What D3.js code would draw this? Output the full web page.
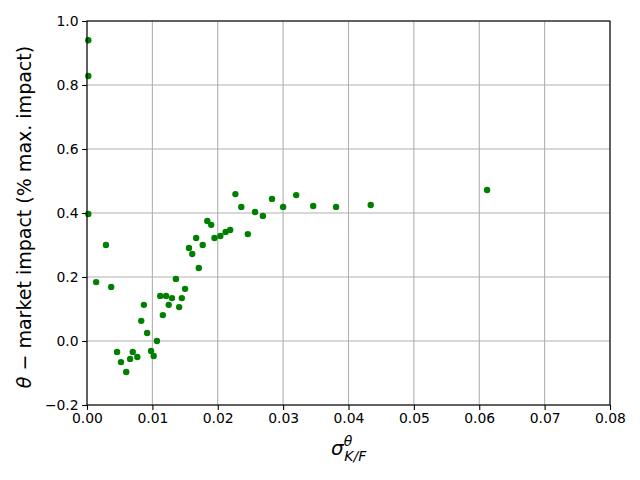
<!DOCTYPE html>
<html><head><meta charset="utf-8">
<script src="https://cdn.jsdelivr.net/npm/d3@7"></script>
<style>body{margin:0;background:#fff}svg{display:block}text{font-family:"DejaVu Sans",sans-serif}</style>
</head><body><svg id="c" width="640" height="480"></svg>
<script>
const sigmaKF = [0.0002,0.0002,0.0002,0.0014,0.0029,0.0037,0.0046,0.0052,0.0060,0.0066,0.0070,0.0077,0.0083,0.0087,0.0092,0.0098,0.0102,0.0107,0.0112,0.0116,0.0121,0.0125,0.0130,0.0136,0.0141,0.0145,0.0150,0.0156,0.0161,0.0167,0.0171,0.0177,0.0184,0.0190,0.0195,0.0204,0.0212,0.0219,0.0227,0.0236,0.0246,0.0257,0.0269,0.0283,0.0300,0.0320,0.0346,0.0381,0.0434,0.0612];
const impact = [0.940,0.828,0.397,0.184,0.300,0.169,-0.034,-0.066,-0.097,-0.056,-0.034,-0.050,0.063,0.113,0.025,-0.031,-0.047,0.000,0.141,0.081,0.141,0.113,0.134,0.194,0.106,0.134,0.163,0.291,0.272,0.322,0.228,0.300,0.375,0.363,0.322,0.328,0.341,0.347,0.459,0.419,0.334,0.403,0.391,0.444,0.419,0.456,0.422,0.419,0.425,0.472];
const xTicks = [0,0.01,0.02,0.03,0.04,0.05,0.06,0.07,0.08];
const yTicks = [-0.2,0,0.2,0.4,0.6,0.8,1.0];

const svg = d3.select("#c");
const L=87,R=610,T=21,B=405;
const x = d3.scaleLinear().domain([0,0.08]).range([L,R]);
const y = d3.scaleLinear().domain([-0.2,1.0]).range([B,T]);

const g = svg.append("g");
g.selectAll(".gx").data(xTicks).join("line").attr("x1",d=>x(d)).attr("x2",d=>x(d)).attr("y1",T).attr("y2",B).attr("stroke","#b0b0b0").attr("stroke-width",1.1);
g.selectAll(".gy").data(yTicks).join("line").attr("y1",d=>y(d)).attr("y2",d=>y(d)).attr("x1",L).attr("x2",R).attr("stroke","#b0b0b0").attr("stroke-width",1.1);

svg.append("g").selectAll("circle").data(sigmaKF.map((v,i)=>[v,impact[i]])).join("circle")
  .attr("cx",d=>x(d[0])).attr("cy",d=>y(d[1])).attr("r",3.2).attr("fill","#008000");

const xa = svg.append("g").attr("transform",`translate(0,${B})`).call(d3.axisBottom(x).tickValues(xTicks).tickFormat(d3.format(".2f")).tickSize(4.9).tickPadding(3.5));
const ya = svg.append("g").attr("transform",`translate(${L},0)`).call(d3.axisLeft(y).tickValues(yTicks).tickFormat(d3.format(".1f")).tickSize(4.9).tickPadding(3.5));
[xa,ya].forEach(a=>{a.select(".domain").remove();a.selectAll("line").attr("stroke","#000").attr("stroke-width",1.1);a.selectAll("text").attr("font-size",13.9).attr("font-family","DejaVu Sans").attr("fill","#000");});
ya.selectAll("text").text(d=>d<0?"\u22120.2":d3.format(".1f")(d));

svg.append("rect").attr("x",L).attr("y",T).attr("width",R-L).attr("height",B-T).attr("fill","none").attr("stroke","#000").attr("stroke-width",1.1);

// y label
const yl = svg.append("text").attr("transform",`translate(31,217) rotate(-90)`).attr("text-anchor","middle").attr("font-size",19).attr("fill","#000");
yl.append("tspan").attr("font-style","italic").text("θ");
yl.append("tspan").text(" \u2212 market impact (% max. impact)");

// x label
const xl = svg.append("text").attr("x",331).attr("y",455).attr("font-size",20).attr("fill","#000");
xl.append("tspan").attr("font-style","italic").text("σ");
xl.append("tspan").attr("font-style","italic").attr("font-size",14).attr("dy",-9).attr("dx",0).text("θ");
xl.append("tspan").attr("font-style","italic").attr("font-size",14).attr("dx",-8).attr("dy",15).text("K/F");
</script></body></html>
